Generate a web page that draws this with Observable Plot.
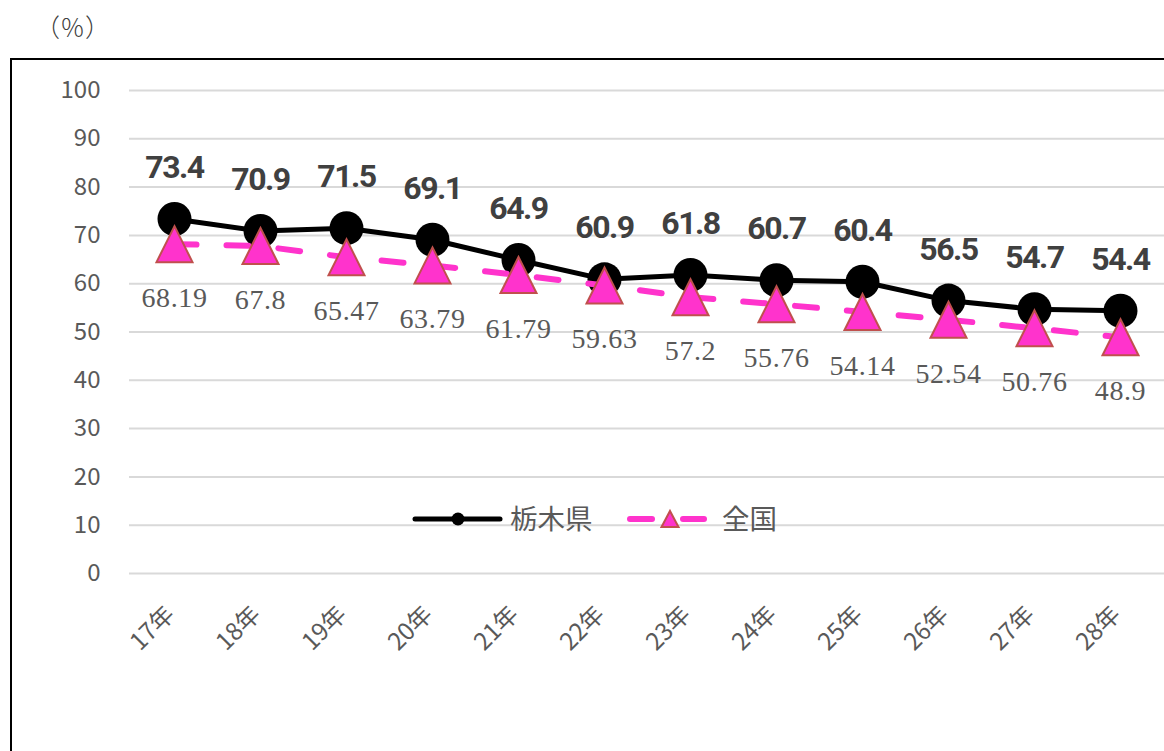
<!DOCTYPE html>
<html><head><meta charset="utf-8">
<script src="https://cdn.jsdelivr.net/npm/d3@7"></script>
<script src="https://cdn.jsdelivr.net/npm/@observablehq/plot@0.6"></script>
<style>
body{margin:0;background:#fff;width:1164px;height:751px;overflow:hidden;position:relative;font-family:"Noto Sans CJK JP",sans-serif}
#unit{position:absolute;left:35px;top:8px;font-size:25px;line-height:36px;color:#404040;font-family:"Noto Sans CJK JP",sans-serif;font-weight:300}
#frame{position:absolute;left:10px;top:58px;width:1200px;height:800px;border:2px solid #000;box-sizing:border-box}
#chart{position:absolute;left:12px;top:60px}
#legend{position:absolute;left:0;top:0}
</style></head><body>
<div id="unit">（％）</div>
<div id="frame"></div>
<div id="chart"></div>
<svg id="legend" width="1164" height="751" font-family="Noto Sans CJK JP, sans-serif">
  <line x1="415" y1="519" x2="500" y2="519" stroke="#000" stroke-width="5" stroke-linecap="round"/>
  <circle cx="458" cy="519" r="6.5" fill="#000"/>
  <text x="510" y="519" dy="0.35em" font-size="27.5" fill="#595959">栃木県</text>
  <line x1="630" y1="519" x2="652" y2="519" stroke="#FF33CC" stroke-width="6" stroke-linecap="round"/>
  <line x1="683" y1="519" x2="704" y2="519" stroke="#FF33CC" stroke-width="6" stroke-linecap="round"/>
  <path d="M670,511 L678.5,527 L661.5,527 Z" fill="#FF33CC" stroke="#C0504D" stroke-width="2"/>
  <text x="722" y="519" dy="0.35em" font-size="27.5" fill="#595959">全国</text>
</svg>
<script>
const years = ["17年","18年","19年","20年","21年","22年","23年","24年","25年","26年","27年","28年"];
const tochigi = [73.4, 70.9, 71.5, 69.1, 64.9, 60.9, 61.8, 60.7, 60.4, 56.5, 54.7, 54.4];
const national = [68.19, 67.8, 65.47, 63.79, 61.79, 59.63, 57.2, 55.76, 54.14, 52.54, 50.76, 48.9];
const yTicks = [0, 10, 20, 30, 40, 50, 60, 70, 80, 90, 100];

const data = years.map((y, i) => ({year: y, tochigi: tochigi[i], national: national[i]}));
const triangle = {draw(ctx, size) {
  const r = Math.sqrt(size / Math.PI);
  ctx.moveTo(0, -r); ctx.lineTo(r, r); ctx.lineTo(-r, r); ctx.closePath();
}};

const chart = Plot.plot({
  width: 1152, height: 690,
  marginLeft: 117, marginRight: 0, marginTop: 30, marginBottom: 177,
  x: {type: "point", domain: years, padding: 0.5, axis: null},
  y: {domain: [0, 100], axis: null},
  style: {fontFamily: "Noto Sans CJK JP, sans-serif", background: "transparent", overflow: "visible"},
  marks: [
    Plot.ruleY(yTicks, {stroke: "#d9d9d9", strokeWidth: 2}),
    Plot.axisY({ticks: yTicks, tickSize: 0, tickPadding: 29, fontSize: 24, color: "#595959", label: null}),
    Plot.text(years, {x: d => d, frameAnchor: "bottom", dx: -4, dy: 37, rotate: -45, textAnchor: "end", lineAnchor: "middle", fontSize: 24, fill: "#595959"}),
    Plot.line(data, {x: "year", y: "tochigi", stroke: "#000", strokeWidth: 5}),
    Plot.dot(data, {x: "year", y: "tochigi", r: 17, fill: "#000"}),
    Plot.line(data, {x: "year", y: "national", stroke: "#FF33CC", strokeWidth: 6, strokeDasharray: "22,30"}),
    Plot.dot(data, {x: "year", y: "national", r: 18, symbol: triangle, fill: "#FF33CC", stroke: "#C0504D", strokeWidth: 2}),
    Plot.text(data, {x: "year", y: "tochigi", text: d => d.tochigi.toFixed(1), dy: -41, lineAnchor: "bottom", fontSize: 32, fontWeight: "bold", fontFamily: "Roboto, Liberation Sans, sans-serif", fill: "#404040"}),
    Plot.text(data, {x: "year", y: "national", text: d => String(d.national), dy: 63, lineAnchor: "bottom", fontSize: 28, fontFamily: "Liberation Serif, serif", fill: "#595959"})
  ]
});
d3.select(chart).selectAll("g[font-weight=bold] text").style("letter-spacing", "-1.5px");
d3.select(chart).selectAll("g[font-family^='Liberation Serif'] text").style("letter-spacing", "0.6px");
document.getElementById("chart").appendChild(chart);
</script>
</body></html>
